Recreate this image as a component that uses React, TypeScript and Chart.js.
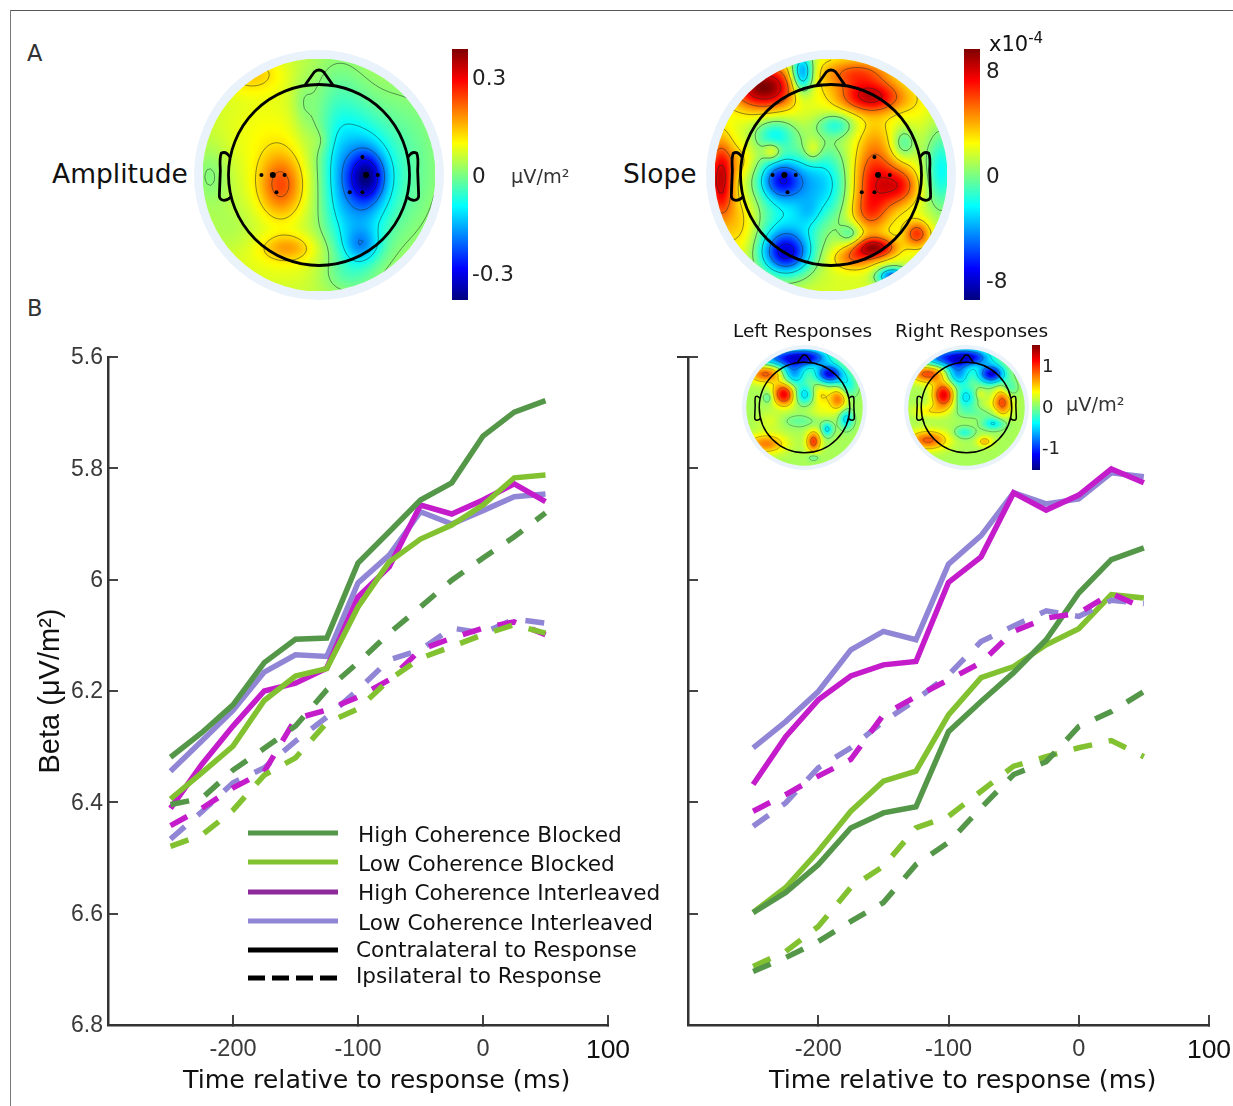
import React, { useEffect, useRef } from "react";
import { Chart, registerables } from "chart.js";

Chart.register(...registerables);

// ---------- line data (beta power), time -250..50 ms in 25 ms steps
const times = [-250, -225, -200, -175, -150, -125, -100, -75, -50, -25, 0, 25, 50];

const leftHcbContra = [6.319, 6.275, 6.225, 6.149, 6.107, 6.105, 5.97, 5.914, 5.857, 5.826, 5.742, 5.699, 5.6785];
const leftLcbContra = [6.394, 6.347, 6.299, 6.217, 6.173, 6.16, 6.049, 5.968, 5.927, 5.902, 5.866, 5.817, 5.812];
const leftHciContra = [6.411, 6.332, 6.263, 6.2, 6.186, 6.159, 6.031, 5.977, 5.866, 5.882, 5.857, 5.828, 5.86];
const leftLciContra = [6.344, 6.29, 6.235, 6.166, 6.135, 6.138, 6.006, 5.956, 5.878, 5.9, 5.876, 5.851, 5.846];
const leftHcbIpsi = [6.404, 6.393, 6.342, 6.303, 6.263, 6.198, 6.149, 6.096, 6.049, 6.001, 5.961, 5.923, 5.88];
const leftLcbIpsi = [6.479, 6.459, 6.414, 6.351, 6.32, 6.257, 6.232, 6.18, 6.141, 6.12, 6.099, 6.081, 6.096];
const leftHciIpsi = [6.442, 6.411, 6.374, 6.345, 6.25, 6.234, 6.211, 6.18, 6.126, 6.105, 6.087, 6.076, 6.099];
const leftLciIpsi = [6.466, 6.417, 6.365, 6.338, 6.29, 6.247, 6.198, 6.144, 6.126, 6.087, 6.096, 6.071, 6.078];

const rightHcbContra = [6.598, 6.562, 6.512, 6.446, 6.419, 6.408, 6.273, 6.219, 6.167, 6.108, 6.024, 5.964, 5.943];
const rightLcbContra = [6.598, 6.553, 6.488, 6.416, 6.362, 6.344, 6.243, 6.176, 6.156, 6.117, 6.088, 6.027, 6.033];
const rightHciContra = [6.368, 6.282, 6.216, 6.173, 6.153, 6.147, 6.005, 5.959, 5.844, 5.875, 5.848, 5.801, 5.826];
const rightLciContra = [6.302, 6.255, 6.201, 6.126, 6.093, 6.108, 5.972, 5.921, 5.844, 5.864, 5.855, 5.808, 5.815];
const rightHcbIpsi = [6.704, 6.679, 6.65, 6.614, 6.58, 6.512, 6.472, 6.41, 6.35, 6.327, 6.264, 6.237, 6.201];
const rightLcbIpsi = [6.695, 6.668, 6.623, 6.553, 6.515, 6.446, 6.425, 6.38, 6.335, 6.318, 6.302, 6.289, 6.318];
const rightHciIpsi = [6.416, 6.386, 6.353, 6.323, 6.243, 6.21, 6.18, 6.149, 6.093, 6.069, 6.06, 6.025, 6.051];
const rightLciIpsi = [6.443, 6.401, 6.338, 6.302, 6.255, 6.216, 6.171, 6.111, 6.083, 6.056, 6.066, 6.037, 6.043];

const xTickValues = [-200, -100, 0, 100];
const seriesNames = ["High Coherence Blocked", "Low Coherence Blocked", "High Coherence Interleaved", "Low Coherence Interleaved"];
const lineNames = ["Contralateral to Response", "Ipsilateral to Response"];

// ---------- scalp map data: peaks [x, y, value, spreadX, spreadY]
const amplitudeBase = 0.14;
const amplitudePeaks = [
  [-0.42, -0.12, 0.45, 0.18, 0.25],
  [-0.55, 0.45, 0.1, 0.4, 0.35],
  [-0.75, 1.12, 0.2, 0.25, 0.15],
  [-0.35, -0.8, 0.24, 0.2, 0.1],
  [-0.35, -0.95, 0.08, 0.5, 0.2],
  [0.53, -0.02, -0.56, 0.14, 0.19],
  [0.46, 0.02, -0.4, 0.24, 0.42],
  [0.47, -0.78, -0.3, 0.14, 0.13],
  [0.38, -0.6, -0.28, 0.25, 0.4],
  [0.2, 0.65, -0.22, 0.25, 0.5],
  [0.3, -1.1, -0.12, 0.22, 0.15],
  [0.95, 0.1, -0.2, 0.35, 0.7],
  [-1.2, 0.0, -0.14, 0.15, 0.25],
  [0.2, 0.0, -0.1, 0.12, 0.4],
  [-1.0, -0.6, -0.05, 0.2, 0.2],
  [-0.18, 0.78, -0.09, 0.08, 0.2],
  [0.02, 0.38, 0.07, 0.08, 0.1],
];

const slopeBase = 0.18;
const slopePeaks = [
  [-0.74, 0.97, 0.84, 0.25, 0.17],
  [-0.32, 1.12, -0.75, 0.09, 0.16],
  [0.44, 0.86, 0.66, 0.25, 0.12],
  [0.28, 1.12, 0.42, 0.28, 0.12],
  [0.47, -0.05, 0.52, 0.18, 0.26],
  [0.76, -0.12, 0.45, 0.15, 0.15],
  [0.42, -0.42, 0.32, 0.15, 0.16],
  [0.48, 0.42, 0.14, 0.14, 0.2],
  [-1.22, -0.05, 0.7, 0.1, 0.3],
  [-0.55, -0.05, -0.58, 0.16, 0.15],
  [-0.45, -0.1, -0.34, 0.34, 0.27],
  [-0.62, 0.45, -0.38, 0.16, 0.13],
  [-0.05, -0.1, -0.33, 0.22, 0.32],
  [0.05, 0.55, -0.32, 0.14, 0.09],
  [-0.2, 0.27, 0.22, 0.07, 0.09],
  [-0.65, 0.26, 0.3, 0.07, 0.07],
  [-0.5, -0.87, -0.68, 0.19, 0.16],
  [-0.5, -0.72, -0.38, 0.24, 0.27],
  [-0.25, -0.42, -0.15, 0.1, 0.12],
  [0.48, -0.8, 0.72, 0.16, 0.08],
  [0.25, -0.92, 0.34, 0.17, 0.09],
  [0.95, -0.65, 0.48, 0.1, 0.1],
  [0.68, -1.12, -0.75, 0.12, 0.07],
  [1.22, 0.05, -0.42, 0.13, 0.32],
  [0.8, 0.35, -0.28, 0.09, 0.12],
  [0.22, -0.65, -0.26, 0.09, 0.09],
  [-1.0, -0.5, 0.2, 0.14, 0.28],
  [-1.0, 0.15, 0.18, 0.12, 0.14],
  [0.95, 0.75, 0.05, 0.15, 0.15],
];

const leftRespBase = 0.08;
const leftRespPeaks = [
  [-0.35, 1.1, -0.72, 0.5, 0.15],
  [0.15, 1.12, -0.38, 0.28, 0.13],
  [-0.25, 0.74, -0.52, 0.19, 0.19],
  [0.55, 0.74, -0.85, 0.21, 0.15],
  [0.95, 0.48, -0.3, 0.15, 0.2],
  [-0.85, 0.75, 0.52, 0.27, 0.14],
  [-0.45, 0.3, 0.72, 0.17, 0.18],
  [0.0, 0.28, -0.4, 0.16, 0.15],
  [0.35, 0.28, 0.24, 0.14, 0.17],
  [0.75, 0.2, 0.46, 0.14, 0.17],
  [-0.8, 0.22, -0.2, 0.08, 0.09],
  [0.5, -0.48, -0.38, 0.09, 0.11],
  [0.92, -0.25, -0.4, 0.11, 0.15],
  [0.2, -0.75, 0.56, 0.11, 0.16],
  [-0.85, -0.8, 0.42, 0.3, 0.15],
  [0.2, -1.1, -0.16, 0.09, 0.06],
  [-0.1, -0.3, -0.14, 0.28, 0.1],
  [0.42, -0.08, 0.1, 0.25, 0.14],
  [-0.75, -0.3, 0.1, 0.2, 0.14],
];
const rightRespBase = 0.08;
const rightRespPeaks = [
  [-0.35, 1.1, -0.72, 0.5, 0.15],
  [0.15, 1.12, -0.38, 0.28, 0.13],
  [-0.2, 0.74, -0.52, 0.19, 0.19],
  [0.55, 0.74, -0.85, 0.21, 0.15],
  [0.95, 0.42, -0.24, 0.12, 0.14],
  [-0.85, 0.75, 0.55, 0.27, 0.14],
  [-0.5, 0.28, 0.72, 0.17, 0.2],
  [-0.02, 0.22, -0.38, 0.17, 0.17],
  [0.3, 0.3, 0.14, 0.08, 0.08],
  [0.8, 0.12, 0.52, 0.14, 0.22],
  [-0.8, -0.08, 0.2, 0.28, 0.1],
  [0.6, -0.35, -0.36, 0.18, 0.1],
  [-0.05, -0.55, -0.26, 0.15, 0.09],
  [0.4, -0.75, 0.3, 0.12, 0.08],
  [-0.85, -0.72, 0.5, 0.3, 0.15],
  [0.18, -0.1, -0.12, 0.38, 0.1],
  [0.5, 0.05, 0.08, 0.2, 0.12],
];

const amplitudeDots = [[-0.636, 0, 2], [-0.51, 0, 3], [-0.38, 0, 2], [-0.47, -0.19, 2], [0.48, 0.2, 2], [0.52, 0, 3], [0.65, 0, 2], [0.34, -0.19, 2], [0.48, -0.19, 2]];
const slopeDots = [[-0.645, 0, 2], [-0.515, 0, 3], [-0.39, 0, 2], [-0.48, -0.19, 2], [0.48, 0.2, 2], [0.52, 0, 3], [0.65, 0, 2], [0.34, -0.19, 2], [0.48, -0.19, 2]];

const contourLevels = [-0.75, -0.5, -0.25, 0.02, 0.3, 0.55, 0.8];

const amplitudeBarTicks = [-0.3, 0, 0.3];
const slopeBarTicks = [-8, 0, 8];
const smallBarTicks = [-1, 0, 1];

// ---------- helpers
const clamp01 = (v: number) => Math.max(0, Math.min(1, v));
const jet = (t: number): number[] => [
  255 * clamp01(1.5 - Math.abs(4 * t - 3)),
  255 * clamp01(1.5 - Math.abs(4 * t - 2)),
  255 * clamp01(1.5 - Math.abs(4 * t - 1)),
];
const VIEW = 1.381;
const DISK = 1.287;

function fieldAt(x: number, y: number, base: number, peaks: number[][]) {
  let v = base;
  for (const [px, py, a, sx, sy] of peaks) {
    const dx = (x - px) / sx;
    const dy = (y - py) / sy;
    v += a * Math.exp(-0.5 * (dx * dx + dy * dy));
  }
  return v;
}

function scalpPlugin(base: number, peaks: number[][], headWidth: number) {
  return {
    id: "scalp",
    beforeDatasetsDraw(chart: any) {
      const { ctx, scales } = chart;
      const X = (v: number) => scales.x.getPixelForValue(v);
      const Y = (v: number) => scales.y.getPixelForValue(v);
      const unit = X(1) - X(0);
      ctx.save();
      ctx.fillStyle = "#eaf3fb";
      ctx.beginPath();
      ctx.arc(X(0), Y(0), VIEW * unit, 0, Math.PI * 2);
      ctx.fill();
      ctx.beginPath();
      ctx.arc(X(0), Y(0), DISK * unit, 0, Math.PI * 2);
      ctx.clip();
      const N = 72;
      const grid: number[][] = [];
      const off = document.createElement("canvas");
      off.width = N;
      off.height = N;
      const octx = off.getContext("2d")!;
      const img = octx.createImageData(N, N);
      for (let j = 0; j < N; j++) {
        const row: number[] = [];
        for (let i = 0; i < N; i++) {
          const x = -DISK + (2 * DISK * (i + 0.5)) / N;
          const y = DISK - (2 * DISK * (j + 0.5)) / N;
          const v = fieldAt(x, y, base, peaks);
          row.push(v);
          const c = jet((v + 1) / 2);
          const k = (j * N + i) * 4;
          img.data[k] = c[0];
          img.data[k + 1] = c[1];
          img.data[k + 2] = c[2];
          img.data[k + 3] = 255;
        }
        grid.push(row);
      }
      octx.putImageData(img, 0, 0);
      ctx.imageSmoothingEnabled = true;
      ctx.drawImage(off, X(-DISK), Y(DISK), 2 * DISK * unit, 2 * DISK * unit);
      // contours
      const cell = (2 * DISK * unit) / N;
      const ox = X(-DISK) + cell / 2;
      const oy = Y(DISK) + cell / 2;
      ctx.strokeStyle = "rgba(30,40,40,0.65)";
      ctx.lineWidth = headWidth > 2 ? 0.8 : 0.5;
      for (const level of contourLevels) {
        ctx.beginPath();
        for (let j = 0; j < N - 1; j++) {
          for (let i = 0; i < N - 1; i++) {
            const a = grid[j][i], b = grid[j][i + 1], c = grid[j + 1][i + 1], d = grid[j + 1][i];
            const pts: number[][] = [];
            const cross = (p: number, q: number, x1: number, y1: number, x2: number, y2: number) => {
              if (p < level !== q < level) {
                const t = (level - p) / (q - p);
                pts.push([ox + (x1 + (x2 - x1) * t + i) * cell, oy + (y1 + (y2 - y1) * t + j) * cell]);
              }
            };
            cross(a, b, 0, 0, 1, 0);
            cross(b, c, 1, 0, 1, 1);
            cross(d, c, 0, 1, 1, 1);
            cross(a, d, 0, 0, 0, 1);
            for (let n = 0; n + 1 < pts.length; n += 2) {
              ctx.moveTo(pts[n][0], pts[n][1]);
              ctx.lineTo(pts[n + 1][0], pts[n + 1][1]);
            }
          }
        }
        ctx.stroke();
      }
      ctx.restore();
      // head, nose, ears
      ctx.save();
      ctx.strokeStyle = "#000";
      ctx.lineWidth = headWidth;
      ctx.lineJoin = "round";
      ctx.beginPath();
      ctx.arc(X(0), Y(0), unit, 0, Math.PI * 2);
      ctx.stroke();
      ctx.beginPath();
      ctx.moveTo(X(-0.16), Y(0.985));
      ctx.lineTo(X(-0.05), Y(1.14));
      ctx.quadraticCurveTo(X(0), Y(1.18), X(0.05), Y(1.14));
      ctx.lineTo(X(0.16), Y(0.985));
      ctx.stroke();
      for (const s of [-1, 1]) {
        ctx.beginPath();
        ctx.moveTo(X(s * 0.985), Y(0.2));
        ctx.quadraticCurveTo(X(s * 1.03), Y(0.27), X(s * 1.08), Y(0.24));
        ctx.quadraticCurveTo(X(s * 1.1), Y(0.2), X(s * 1.09), Y(0.05));
        ctx.lineTo(X(s * 1.1), Y(-0.2));
        ctx.quadraticCurveTo(X(s * 1.11), Y(-0.28), X(s * 1.05), Y(-0.28));
        ctx.quadraticCurveTo(X(s * 1.01), Y(-0.28), X(s * 0.97), Y(-0.24));
        ctx.stroke();
      }
      ctx.restore();
    },
  };
}

function useChart(make: (canvas: HTMLCanvasElement) => Chart) {
  const ref = useRef<HTMLCanvasElement>(null);
  useEffect(() => {
    const c = make(ref.current!);
    return () => c.destroy();
  }, []);
  return ref;
}

function Scalp(props: { left: number; top: number; size: number; base: number; peaks: number[][]; dots: number[][]; head: number }) {
  const { left, top, size, base, peaks, dots, head } = props;
  const ref = useChart((canvas) =>
    new Chart(canvas, {
      type: "scatter",
      data: {
        datasets: [
          {
            data: dots.map(([x, y, r]) => ({ x, y, r })),
            backgroundColor: "#000",
            borderWidth: 0,
            pointRadius: (c: any) => (c.raw ? c.raw.r : 0),
          },
        ],
      },
      options: {
        responsive: false,
        animation: false,
        layout: { padding: 0, autoPadding: false },
        plugins: { legend: { display: false }, tooltip: { enabled: false } },
        scales: {
          x: { display: false, type: "linear", min: -VIEW, max: VIEW },
          y: { display: false, type: "linear", min: -VIEW, max: VIEW },
        },
      },
      plugins: [scalpPlugin(base, peaks, head)],
    } as any)
  );
  return <canvas ref={ref} width={size} height={size} style={{ position: "absolute", left, top, width: size, height: size }} />;
}

function ColorBar(props: { left: number; top: number; height: number; barWidth: number; max: number; ticks: number[]; fontSize: number; pad: number; shift: number }) {
  const { left, top, height, barWidth, max, ticks, fontSize, pad, shift } = props;
  const width = barWidth + 70;
  const ref = useChart((canvas) =>
    new Chart(canvas, {
      type: "bar",
      data: {
        labels: ["scale"],
        datasets: [
          {
            data: [[-max, max]],
            barPercentage: 1,
            categoryPercentage: 1,
            backgroundColor: (c: any) => {
              const area = c.chart.chartArea;
              if (!area) return "#000";
              const g = c.chart.ctx.createLinearGradient(0, area.bottom, 0, area.top);
              for (let i = 0; i <= 48; i++) {
                const t = i / 48;
                const [r, gg, b] = jet(t);
                g.addColorStop(t, `rgb(${r | 0},${gg | 0},${b | 0})`);
              }
              return g;
            },
          },
        ],
      },
      options: {
        responsive: false,
        animation: false,
        layout: { padding: 0, autoPadding: false },
        plugins: { legend: { display: false }, tooltip: { enabled: false } },
        scales: {
          x: { display: false },
          y: {
            position: "right",
            min: -max,
            max,
            grid: { display: false, drawTicks: false },
            border: { display: false },
            afterFit: (s: any) => {
              s.width = 70;
              s.paddingTop = 0;
              s.paddingBottom = 0;
            },
            afterBuildTicks: (s: any) => {
              s.ticks = ticks.map((value) => ({ value }));
            },
            ticks: {
              padding: pad,
              labelOffset: shift,
              autoSkip: false,
              color: "#222",
              font: { family: "'DejaVu Sans'", size: fontSize },
              callback: (v: any) => String(v),
            },
          },
        },
      },
    } as any)
  );
  return <canvas ref={ref} width={width} height={height} style={{ position: "absolute", left, top, width, height }} />;
}

const GREEN_D = "#559749";
const GREEN_L = "#82c12f";
const MAGENTA = "#c41ccb";
const LAVENDER = "#9186d6";
const seriesColors = [GREEN_D, GREEN_L, MAGENTA, LAVENDER];
const legendColors = [GREEN_D, GREEN_L, "#8e2a9a", LAVENDER];

function makeDatasets(contra: number[][], ipsi: number[][]) {
  const toPoints = (vals: number[]) => vals.map((y, i) => ({ x: times[i], y }));
  return [
    ...ipsi.map((vals, i) => ({
      label: `${seriesNames[i]} – ${lineNames[1]}`,
      data: toPoints(vals),
      borderColor: seriesColors[i],
      borderDash: [19, 17],
    })),
    ...contra.map((vals, i) => ({
      label: `${seriesNames[i]} – ${lineNames[0]}`,
      data: toPoints(vals),
      borderColor: seriesColors[i],
    })),
  ].map((d) => ({
    ...d,
    borderWidth: 5.5,
    pointRadius: 0,
    tension: 0,
    fill: false,
    borderCapStyle: "butt",
    borderJoinStyle: "miter",
  }));
}

const legendPlugin = {
  id: "keyLines",
  afterDraw(chart: any) {
    const { ctx } = chart;
    const y0 = -340;
    const rows = [833, 862, 892, 921, 950, 978];
    ctx.save();
    ctx.lineWidth = 5;
    rows.forEach((row, i) => {
      ctx.beginPath();
      ctx.strokeStyle = i < 4 ? legendColors[i] : "#000";
      ctx.setLineDash(i === 5 ? [17, 7] : []);
      ctx.moveTo(248, row + y0);
      ctx.lineTo(338, row + y0);
      ctx.stroke();
    });
    ctx.restore();
  },
};

const topTickPlugin = {
  id: "outerTopTick",
  afterDraw(chart: any) {
    const { ctx, scales } = chart;
    const y = scales.y.getPixelForValue(5.6);
    ctx.save();
    ctx.strokeStyle = "#333";
    ctx.lineWidth = 2;
    ctx.beginPath();
    ctx.moveTo(scales.y.right - 11, y);
    ctx.lineTo(scales.y.right, y);
    ctx.stroke();
    ctx.restore();
  },
};

function LinePanel(props: {
  left: number;
  width: number;
  yAxisWidth: number;
  rightPad: number;
  contra: number[][];
  ipsi: number[][];
  showY: boolean;
}) {
  const { left, width, yAxisWidth, rightPad, contra, ipsi, showY } = props;
  const top = 340;
  const height = 766;
  const ref = useChart((canvas) =>
    new Chart(canvas, {
      type: "line",
      data: { datasets: makeDatasets(contra, ipsi) },
      options: {
        responsive: false,
        animation: false,
        layout: { padding: { top: 17, right: rightPad, left: 0, bottom: 0 }, autoPadding: false },
        plugins: { legend: { display: false }, tooltip: { enabled: false } },
        scales: {
          x: {
            type: "linear",
            min: -300,
            max: 100,
            afterFit: (s: any) => {
              s.height = 81;
              s.paddingLeft = 0;
              s.paddingRight = 0;
            },
            afterBuildTicks: (s: any) => {
              s.ticks = xTickValues.map((value) => ({ value }));
            },
            grid: { drawOnChartArea: false, tickLength: -10, color: "#444", lineWidth: 2 },
            border: { color: "#333", width: 2.5 },
            ticks: {
              padding: 20,
              autoSkip: false,
              maxRotation: 0,
              color: (c: any) => (c.tick && c.tick.value === 100 ? "#111" : "#3a3a3a"),
              font: (c: any) => ({ family: "'Liberation Sans'", size: c.tick && c.tick.value === 100 ? 26.5 : 23.5 }),
              callback: (v: any) => String(v),
            },
          },
          y: {
            type: "linear",
            reverse: true,
            min: 5.6,
            max: 6.8,
            afterFit: (s: any) => {
              s.width = yAxisWidth;
              s.paddingTop = 0;
              s.paddingBottom = 0;
            },
            grid: { drawOnChartArea: false, tickLength: -10, color: "#444", lineWidth: 2 },
            border: { color: "#333", width: 2.5 },
            title: showY
              ? { display: true, text: "Beta (μV/m²)", color: "#111", font: { family: "'Liberation Sans'", size: 29 }, padding: { top: 34, bottom: 0 } }
              : { display: false },
            ticks: {
              display: showY,
              stepSize: 0.2,
              padding: 15,
              labelOffset: 1,
              color: "#3a3a3a",
              font: { family: "'Liberation Sans'", size: 23 },
              callback: (v: any) => String(Number(Number(v).toFixed(1))),
            },
          },
        },
      },
      plugins: showY ? [legendPlugin] : [topTickPlugin],
    } as any)
  );
  return <canvas ref={ref} width={width} height={height} style={{ position: "absolute", left, top, width, height }} />;
}

const DEJAVU = "'DejaVu Sans', sans-serif";

function Label(props: { x: number; y: number; size: number; color?: string; children: React.ReactNode }) {
  return (
    <span
      style={{
        position: "absolute",
        left: props.x,
        top: props.y,
        transform: "translateY(-50%)",
        fontFamily: DEJAVU,
        fontSize: props.size,
        color: props.color || "#111",
        whiteSpace: "nowrap",
        lineHeight: 1,
      }}
    >
      {props.children}
    </span>
  );
}

export default function App() {
  return (
    <div style={{ position: "absolute", left: 0, top: 0, width: 1233, height: 1106, overflow: "hidden", background: "#fff" }}>
      <div style={{ position: "absolute", left: 10, top: 10, width: 1223, height: 1, background: "#555" }} />
      <div style={{ position: "absolute", left: 10, top: 10, width: 1, height: 1096, background: "#777" }} />

      <LinePanel
        left={0}
        width={640}
        yAxisWidth={108}
        rightPad={32}
        showY
        contra={[leftHcbContra, leftLcbContra, leftHciContra, leftLciContra]}
        ipsi={[leftHcbIpsi, leftLcbIpsi, leftHciIpsi, leftLciIpsi]}
      />
      <LinePanel
        left={660}
        width={573}
        yAxisWidth={28}
        rightPad={24}
        showY={false}
        contra={[rightHcbContra, rightLcbContra, rightHciContra, rightLciContra]}
        ipsi={[rightHcbIpsi, rightLcbIpsi, rightHciIpsi, rightLciIpsi]}
      />

      <Scalp left={194} top={50} size={250} base={amplitudeBase} peaks={amplitudePeaks} dots={amplitudeDots} head={2.8} />
      <Scalp left={706} top={50} size={250} base={slopeBase} peaks={slopePeaks} dots={slopeDots} head={2.8} />
      <ColorBar left={452} top={49} height={251} barWidth={16} max={0.384} ticks={amplitudeBarTicks} fontSize={21.5} pad={4} shift={3} />
      <ColorBar left={964} top={49} height={251} barWidth={16} max={9.6} ticks={slopeBarTicks} fontSize={21.5} pad={6} shift={3} />

      <Scalp left={742} top={345} size={125} base={leftRespBase} peaks={leftRespPeaks} dots={[]} head={1.5} />
      <Scalp left={904} top={345} size={125} base={rightRespBase} peaks={rightRespPeaks} dots={[]} head={1.5} />
      <ColorBar left={1032} top={345} height={125} barWidth={8} max={1.52} ticks={smallBarTicks} fontSize={18} pad={2} shift={1} />

      <Label x={27} y={53} size={22.5} color="#333">A</Label>
      <Label x={27} y={308} size={22.5} color="#333">B</Label>
      <Label x={52} y={174} size={26.5}>Amplitude</Label>
      <Label x={623} y={174} size={26.5}>Slope</Label>
      <Label x={511} y={177} size={19.3} color="#333">μV/m²</Label>
      <Label x={989} y={44} size={21}>x10<sup style={{ fontSize: 15, lineHeight: 0 }}>-4</sup></Label>
      <Label x={733} y={331} size={18.5}>Left Responses</Label>
      <Label x={895} y={331} size={18.5}>Right Responses</Label>
      <Label x={1066} y={405} size={19.3} color="#333">μV/m²</Label>

      <Label x={358} y={834.5} size={21.6}>{seriesNames[0]}</Label>
      <Label x={358} y={863.5} size={21.6}>{seriesNames[1]}</Label>
      <Label x={358} y={892.5} size={21.6}>{seriesNames[2]}</Label>
      <Label x={358} y={922.5} size={21.6}>{seriesNames[3]}</Label>
      <Label x={356} y={949.5} size={21.6}>{lineNames[0]}</Label>
      <Label x={356} y={975.5} size={21.6}>{lineNames[1]}</Label>

      <Label x={183} y={1079.5} size={25.3}>Time relative to response (ms)</Label>
      <Label x={769} y={1079.5} size={25.3}>Time relative to response (ms)</Label>
    </div>
  );
}
